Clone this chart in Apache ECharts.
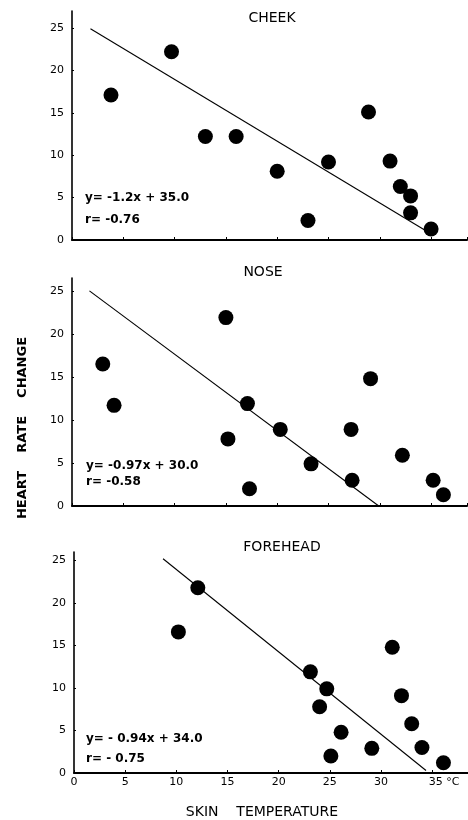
<!DOCTYPE html>
<html>
<head>
<meta charset="utf-8">
<script src="https://cdn.jsdelivr.net/npm/echarts@6/dist/echarts.min.js"></script>
<style>
  html, body { margin: 0; padding: 0; background: #fff; }
  #main { width: 468px; height: 820px; }
</style>
</head>
<body>
<div id="main"></div>
<script>
// 面板标题
var panelNames = ["CHEEK", "NOSE", "FOREHEAD"];
var fitLabels = [
  ["y= -1.2x + 35.0", "r= -0.76"],
  ["y= -0.97x + 30.0", "r= -0.58"],
  ["y= - 0.94x + 34.0", "r= - 0.75"]
];

// 刻度
var xTicks = [0, 5, 10, 15, 20, 25, 30, 35];
var yTicks = [0, 5, 10, 15, 20, 25];

// CHEEK
var cheekX = [3.8, 9.7, 13.0, 16.0, 20.0, 23.0, 25.0, 28.9, 31.0, 32.0, 33.0, 33.0, 35.0];
var cheekY = [17.1, 22.2, 12.2, 12.2, 8.1, 2.3, 9.2, 15.1, 9.3, 6.3, 5.2, 3.2, 1.3];
var cheekFit = [[1.8, 24.9], [34.9, 0.8]];

// NOSE
var noseX = [3.0, 4.1, 15.0, 15.2, 17.1, 17.3, 20.3, 23.3, 27.2, 27.3, 29.1, 32.2, 35.2, 36.2];
var noseY = [16.5, 11.7, 21.9, 7.8, 11.9, 2.0, 8.9, 4.9, 8.9, 3.0, 14.8, 5.9, 3.0, 1.3];
var noseFit = [[1.7, 25.0], [29.9, 0]];

// FOREHEAD
var foreheadX = [10.2, 12.1, 23.1, 24.7, 24.0, 26.1, 25.1, 29.1, 31.1, 32.0, 33.0, 34.0, 36.1];
var foreheadY = [16.6, 21.8, 11.9, 9.9, 7.8, 4.8, 2.0, 2.9, 14.8, 9.1, 5.8, 3.0, 1.2];
var foreheadFit = [[8.7, 25.2], [34.4, 0.3]];

var FONT = "DejaVu Sans";

/**
 * 组装散点数据
 */
function zip(xs, ys) {
  var out = [];
  for (var i = 0; i < xs.length; i++) out.push([xs[i], ys[i]]);
  return out;
}

var grids = [
  { left: 72, width: 395, top: 11, height: 229 },
  { left: 72, width: 395, top: 278, height: 228 },
  { left: 74, width: 394, top: 552, height: 221 }
];
var yMax = [27, 26.5, 26];

var xAxes = [], yAxes = [], series = [];
var points = [zip(cheekX, cheekY), zip(noseX, noseY), zip(foreheadX, foreheadY)];
var fits = [cheekFit, noseFit, foreheadFit];

for (var i = 0; i < 3; i++) {
  var isLast = i === 2;
  xAxes.push({
    type: "value", gridIndex: i, min: xTicks[0], max: 38.5, interval: 5,
    splitLine: { show: false },
    axisLine: { lineStyle: { color: "#000", width: 2 } },
    axisTick: { show: true, inside: true, length: 3, lineStyle: { color: "#000" } },
    axisLabel: {
      show: isLast, showMaxLabel: false, margin: 4, color: "#000",
      fontFamily: FONT, fontSize: 11,
      formatter: function(v) {
        if (xTicks.indexOf(v) < 0) return "";
        // 35 后面带单位
        return v === 35 ? "{u|35 °C}" : String(v);
      },
      rich: { u: { fontFamily: FONT, fontSize: 11, color: "#000", padding: [0, 0, 0, 24] } }
    }
  });
  yAxes.push({
    type: "value", gridIndex: i, min: yTicks[0], max: yMax[i], interval: 5,
    splitLine: { show: false },
    axisLine: { lineStyle: { color: "#000", width: 1.6 } },
    axisTick: { show: true, inside: true, length: 2, lineStyle: { color: "#000" } },
    axisLabel: {
      showMaxLabel: false, margin: 8, color: "#000",
      fontFamily: FONT, fontSize: 11,
      formatter: function(v) { return yTicks.indexOf(v) < 0 ? "" : String(v); }
    }
  });
  series.push({
    type: "line", xAxisIndex: i, yAxisIndex: i, data: fits[i],
    symbol: "none", silent: true,
    lineStyle: { color: "#000", width: 1.1 }
  });
  series.push({
    type: "scatter", xAxisIndex: i, yAxisIndex: i, data: points[i],
    symbolSize: 15, itemStyle: { color: "#000", opacity: 1 }
  });
}

// 文字
var titlePos = [[272, 18], [263, 272], [282, 547]];
var fitPos = [[85, 198, 220], [86, 466, 482], [86, 739, 759]];
var graphics = [];
for (var j = 0; j < 3; j++) {
  graphics.push({
    type: "text", x: titlePos[j][0], y: titlePos[j][1],
    style: { text: panelNames[j], align: "center", verticalAlign: "middle",
      fill: "#000", font: "14px '" + FONT + "'" }
  });
  graphics.push({
    type: "text", x: fitPos[j][0], y: fitPos[j][1],
    style: { text: fitLabels[j][0], align: "left", verticalAlign: "middle",
      fill: "#000", font: "bold 12px '" + FONT + "'" }
  });
  graphics.push({
    type: "text", x: fitPos[j][0], y: fitPos[j][2],
    style: { text: fitLabels[j][1], align: "left", verticalAlign: "middle",
      fill: "#000", font: "bold 12px '" + FONT + "'" }
  });
}
graphics.push({
  type: "text", x: 23, y: 428, rotation: Math.PI / 2,
  style: { text: "HEART    RATE    CHANGE", align: "center", verticalAlign: "middle",
    fill: "#000", font: "bold 13px '" + FONT + "'" }
});
graphics.push({
  type: "text", x: 262, y: 812,
  style: { text: "SKIN    TEMPERATURE", align: "center", verticalAlign: "middle",
    fill: "#000", font: "14px '" + FONT + "'" }
});

var chart = echarts.init(document.getElementById("main"));
chart.setOption({
  animation: false,
  backgroundColor: "#fff",
  grid: grids,
  xAxis: xAxes,
  yAxis: yAxes,
  series: series,
  graphic: graphics
});
</script>
</body>
</html>
